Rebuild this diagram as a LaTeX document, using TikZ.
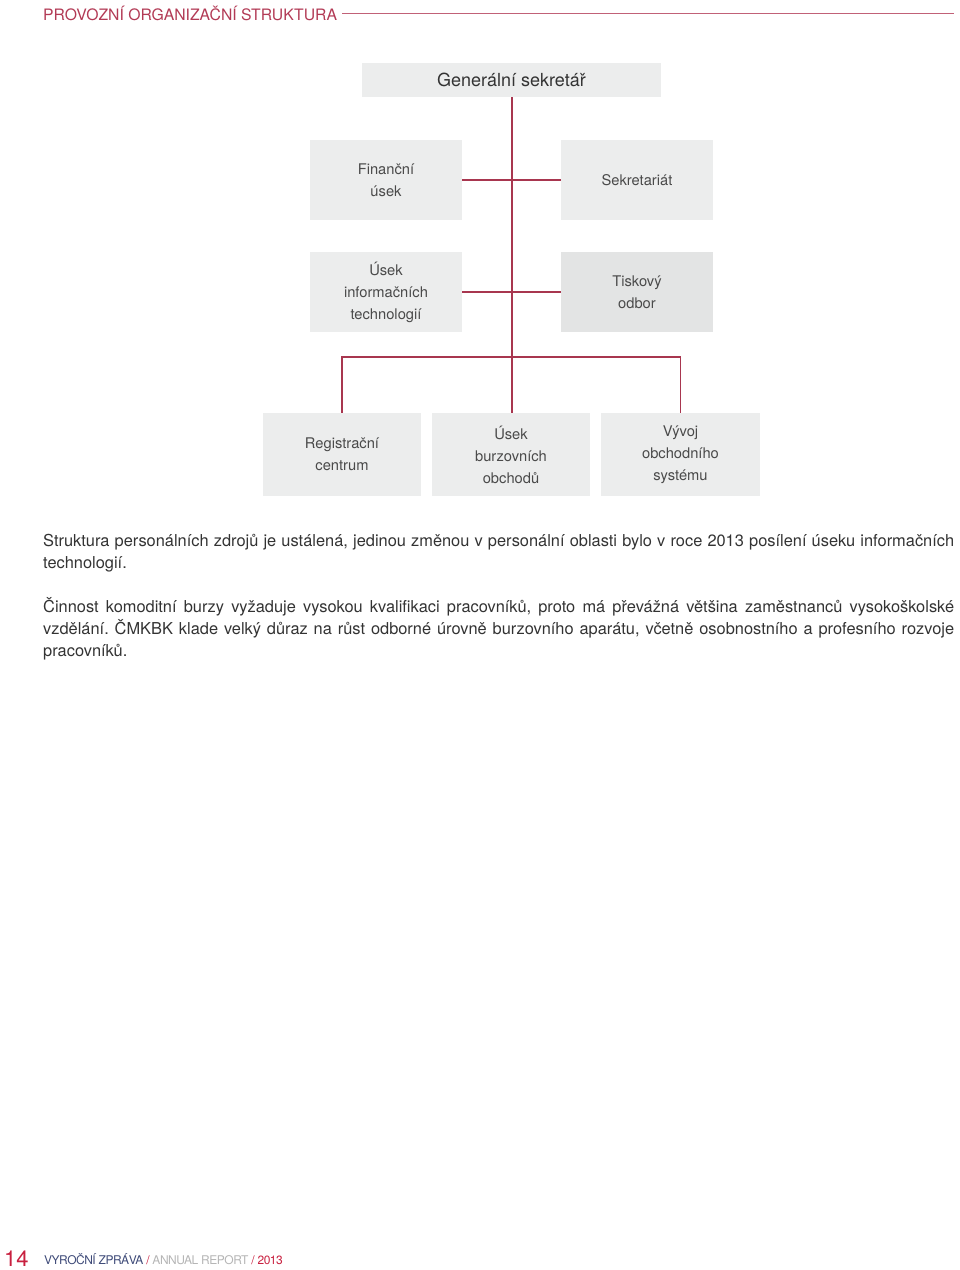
\documentclass[tikz,border=0pt]{standalone}
\usepackage{fontspec}
\setmainfont{TeX Gyre Heros}
\frenchspacing
\definecolor{hdrred}{HTML}{B23A55}
\definecolor{linered}{HTML}{A8364F}
\definecolor{boxfill}{HTML}{ECEDED}
\definecolor{boxdark}{HTML}{E3E4E4}
\definecolor{boxtext}{HTML}{4A4A4A}
\definecolor{bodytext}{HTML}{333333}
\definecolor{ftblue}{HTML}{3E4A78}
\definecolor{ftgray}{HTML}{B5B5B5}
\definecolor{ftred}{HTML}{C8203F}
\tikzset{
  orgbox/.style={fill=boxfill, draw=none, text=boxtext, align=center, inner sep=0pt,
    font=\fontsize{14.7}{22}\selectfont},
  conn/.style={draw=linered, line width=1.1pt},
  bodyline/.style={anchor=base west, inner sep=0pt, text=bodytext, font=\fontsize{16.4}{22}\selectfont\frenchspacing}
}
\begin{document}
\begin{tikzpicture}[x=1pt,y=-1pt]
\useasboundingbox (0,0) rectangle (960,1270);
% header
\node[anchor=base west, inner sep=0pt, text=hdrred, font=\fontsize{15.75}{20}\selectfont] (hdr) at (43,20) {PROVOZNÍ ORGANIZAČNÍ STRUKTURA};
\coordinate (hdrend) at (954,13);
\draw[draw=hdrred!80, line width=0.7pt] (hdr.east |- hdrend) ++(5,0) -- (hdrend);
% boxes
\node[orgbox, minimum width=299pt, minimum height=34pt, font=\fontsize{18}{22}\selectfont, text=bodytext] (gs) at (511.5,80) {Generální sekretář};
\node[orgbox, minimum width=152pt, minimum height=80pt] (fin) at (386,180) {Finanční\\úsek};
\node[orgbox, minimum width=152pt, minimum height=80pt] (sek) at (637,180) {Sekretariát};
\node[orgbox, minimum width=152pt, minimum height=80pt] (uit) at (386,292) {Úsek\\informačních\\technologií};
\node[orgbox, fill=boxdark, minimum width=152pt, minimum height=80pt] (tis) at (637,292) {Tiskový\\odbor};
\node[orgbox, minimum width=158pt, minimum height=83pt] (rc) at (342,454.5) {Registrační\\centrum};
\node[orgbox, minimum width=158pt, minimum height=83pt] (ub) at (511,454.5) {Úsek\\burzovních\\obchodů};
\node[orgbox, minimum width=159pt, minimum height=83pt] (vy) at (680.5,454.5) {Vývoj\\obchodního\\systému};
% connectors
\coordinate (bar) at (512,357);
\draw[conn] (gs.south -| bar) -- (ub.north -| bar);
\draw[conn] (fin.east) -- (sek.west);
\draw[conn] (uit.east) -- (tis.west);
\draw[conn] (rc.north) |- (bar) -| (vy.north);
% body text
\node[bodyline] (l1) at (43,546) {\makebox[911pt][s]{Struktura personálních zdrojů je ustálená, jedinou změnou v personální oblasti bylo v roce 2013 posílení úseku informačních}};
\node[bodyline] (l2) at (43,568) {technologií.};
\node[bodyline] (l3) at (43,612) {\makebox[911pt][s]{Činnost komoditní burzy vyžaduje vysokou kvalifikaci pracovníků, proto má převážná většina zaměstnanců vysokoškolské}};
\node[bodyline] (l4) at (43,634) {\makebox[911pt][s]{vzdělání. ČMKBK klade velký důraz na růst odborné úrovně burzovního aparátu, včetně osobnostního a profesního rozvoje}};
\node[bodyline] (l5) at (43,656) {pracovníků.};
% footer
\node[anchor=base west, inner sep=0pt, text=ftred, font=\fontsize{22}{22}\selectfont] (pg) at (4,1266) {14};
\node[anchor=base west, inner sep=0pt, font=\fontsize{12}{13}\selectfont\addfontfeature{LetterSpace=-4}] (ft) at (44,1264) {{\color{ftblue}VYROČNÍ ZPRÁVA}{\color{ftred}\ /\ }{\color{ftgray}ANNUAL REPORT}{\color{ftred}\ /\ 2013}};
\end{tikzpicture}
\end{document}
